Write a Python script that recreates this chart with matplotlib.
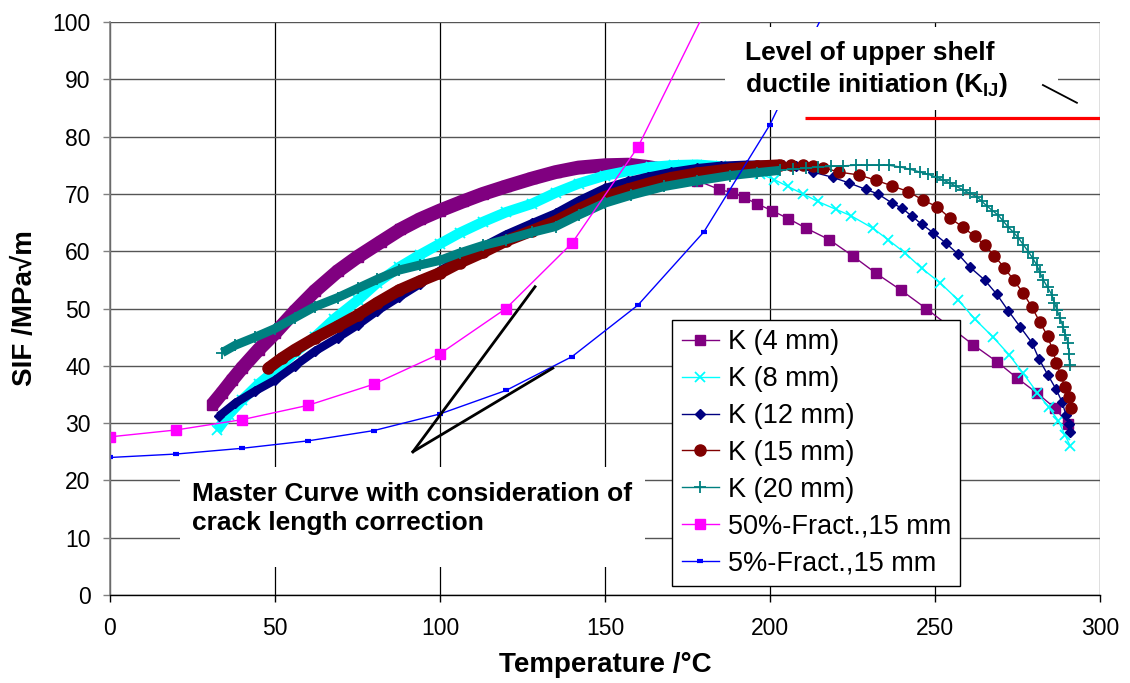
import matplotlib
matplotlib.use('Agg')
import matplotlib.pyplot as plt
from matplotlib.patches import Rectangle

plt.rcParams['font.family'] = ['Liberation Sans', 'DejaVu Sans']
plt.rcParams['mathtext.fontset'] = 'custom'
plt.rcParams['mathtext.rm'] = 'Liberation Sans'
plt.rcParams['mathtext.bf'] = 'Liberation Sans:bold'
plt.rcParams['mathtext.it'] = 'Liberation Sans:italic'

# ---------------- data ----------------
# Each K curve: densely sampled part (_d) and sparsely sampled part (_s)
# K (4 mm)
k4_t_d = [31, 34, 37, 40, 45, 50, 56, 62, 69, 75, 82, 88, 94, 100, 107, 113, 120, 128,
          135, 142, 150, 157, 163, 168, 173, 178]
k4_k_d = [33.2, 35.3, 37.5, 39.6, 42.8, 45.7, 49.5, 53.0, 56.5, 59.0, 61.6, 63.8, 65.6, 67.1,
          68.7, 70.0, 71.3, 72.7, 73.8, 74.6, 75.0, 75.1, 74.7, 74.2, 73.4, 72.3]
k4_t_s = [184.6, 188.6, 192, 196, 200.5, 205.5, 211, 218, 225, 232, 239.7, 247.3, 254.5,
          261.5, 268.8, 274.8, 281, 286.4, 290.3]
k4_k_s = [70.8, 70.2, 69.4, 68.3, 67.1, 65.7, 64.0, 62.0, 59.2, 56.2, 53.2, 50.0, 46.8,
          43.7, 40.7, 37.9, 35.2, 32.6, 29.8]

# K (8 mm)
k8_t_d = [32.5, 36, 40, 45, 50, 56, 62, 68, 75, 81, 87.6, 94, 100, 106, 113, 120, 128, 135,
          142, 150, 157, 164, 171, 178, 185]
k8_k_d = [28.8, 31.5, 34.0, 36.8, 39.2, 42.3, 45.0, 48.2, 51.4, 54.5, 57.2, 59.4, 61.3, 63.2,
          65.1, 66.8, 68.3, 70.2, 71.8, 73.2, 74.0, 74.7, 75.0, 75.1, 74.8]
k8_t_s = [192, 197, 201.3, 205.4, 210, 214.4, 220, 224.5, 231.2, 235.8, 240.9, 246, 251.5, 257,
          262, 267.6, 272.5, 276.7, 281, 284.4, 287.4, 289.4, 291]
k8_k_s = [74.0, 73.5, 72.5, 71.3, 70.0, 68.7, 67.3, 66.2, 64.0, 62.0, 59.7, 57.0, 54.5, 51.5,
          48.2, 45.0, 41.9, 38.7, 35.3, 32.8, 30.4, 27.9, 26.0]

# K (12 mm)
k12_t_d = [33, 38, 44, 50, 56, 62, 69, 75, 81, 87.6, 94, 100, 106, 113, 120, 128, 135, 142,
           150, 157, 163, 170, 178, 185, 193, 200]
k12_k_d = [31.2, 33.5, 35.6, 37.5, 40.0, 42.5, 44.9, 47.1, 49.6, 52.0, 54.3, 56.6, 58.7, 60.8,
           62.9, 64.9, 66.6, 68.8, 71.0, 72.2, 73.0, 73.8, 74.5, 74.9, 75.1, 75.1]
k12_t_s = [204, 208, 213, 219, 224, 229, 232.7, 237, 240, 243, 246, 249.5, 253.3, 257, 260.6,
           265, 268.7, 272.2, 275.8, 279.4, 281.5, 284.2, 286.7, 288.5, 289.7, 290.6, 291]
k12_k_s = [75.0, 74.8, 73.8, 72.9, 71.9, 70.8, 70.0, 68.4, 67.5, 66.1, 64.7, 63.2, 61.4, 59.5,
           57.2, 55.0, 52.5, 49.6, 46.8, 44.0, 41.2, 38.4, 35.9, 33.7, 31.4, 29.8, 28.5]

# K (15 mm)
k15_t_d = [48, 52, 56, 62, 69, 75, 81, 87.6, 94, 100, 106, 113, 120, 128, 135, 142, 150, 157,
           163, 170, 178, 188, 196, 203]
k15_k_d = [39.6, 41.3, 42.8, 44.8, 46.9, 48.8, 51.0, 53.2, 54.8, 56.2, 58.0, 59.8, 61.8, 63.6,
           65.2, 67.3, 69.5, 70.8, 71.8, 72.8, 73.6, 74.3, 74.8, 75.0]
k15_t_s = [206.5, 210, 213, 216, 221, 227, 232, 237, 241.9, 246.4, 250.5, 254.5, 258.5, 262, 265,
           268, 271, 273.8, 276.7, 279.3, 281.8, 284.1, 285.6, 286.8, 288.1, 289.4, 290.5, 291.2]
k15_k_s = [75.0, 75.0, 74.9, 74.6, 73.8, 73.3, 72.4, 71.4, 70.4, 68.9, 67.8, 65.8, 64.2, 62.6,
           61.1, 59.2, 57.1, 55.0, 52.7, 50.3, 47.6, 45.2, 42.8, 40.5, 38.4, 36.3, 34.6, 32.6]

# K (20 mm)
k20_t_d = [34, 38, 44, 50, 56, 62, 69, 75, 81, 87.6, 94, 100, 106, 113, 120, 128, 135, 142,
           150, 158, 168, 178, 188, 196, 203]
k20_k_d = [42.3, 43.6, 45.0, 46.5, 48.4, 50.3, 51.9, 53.5, 55.1, 56.7, 57.6, 58.4, 59.7, 61.0,
           62.0, 63.3, 64.3, 66.3, 68.4, 69.8, 71.3, 72.3, 73.2, 73.7, 74.1]
k20_t_s = [207, 211, 214.5, 218.5, 222, 226, 229.5, 233, 236, 239.4, 242.5, 245.5, 248, 250.6,
           252.5, 254.5, 256.5, 258.5, 260.6, 262.7, 264.2, 265.7, 267.4, 269.1, 270.6, 272.2,
           273.8, 275.3, 276.8, 278.3, 279.6, 280.8, 281.8, 282.8, 284.1, 285.4, 286.2, 287,
           287.9, 288.8, 289.5, 290.3, 290.6, 290.8]
k20_k_s = [74.3, 74.5, 74.7, 74.8, 74.9, 75.0, 75.0, 75.0, 75.0, 74.7, 74.3, 73.8, 73.4, 72.9,
           72.4, 71.9, 71.3, 70.7, 70.1, 69.5, 68.7, 67.9, 67.1, 66.3, 65.3, 64.2, 63.3, 62.3,
           61.1, 59.9, 58.8, 57.6, 56.3, 55.0, 53.7, 52.4, 51.0, 49.7, 48.3, 46.8, 45.4, 44.0,
           42.0, 40.1]

# Master curve fractiles (15 mm)
mc_t = [0, 20, 40, 60, 80, 100, 120, 140, 160, 180, 200, 220]
mc50_k = [27.6, 28.8, 30.6, 33.1, 36.8, 42.1, 50.0, 61.4, 78.2, 101.5, None, None]
mc05_k = [24.0, 24.6, 25.6, 26.9, 28.7, 31.6, 35.7, 41.6, 50.6, 63.4, 82.1, 106.0]

# Upper shelf level and annotation leader lines
kij_t = [210.6, 300]
kij_k = [83.3, 83.3]
lead1_t = [91.8, 128.8]
lead1_k = [25.0, 53.8]
lead2_t = [91.8, 134.2]
lead2_k = [25.0, 39.6]
lead3_t = [282.7, 293.0]
lead3_k = [89.0, 85.9]

labels = ['K (4 mm)', 'K (8 mm)', 'K (12 mm)', 'K (15 mm)', 'K (20 mm)',
          '50%-Fract.,15 mm', '5%-Fract.,15 mm']
x_ticks = [0, 50, 100, 150, 200, 250, 300]
y_ticks = [0, 10, 20, 30, 40, 50, 60, 70, 80, 90, 100]

# ---------------- figure ----------------
fig = plt.figure(figsize=(11.3, 6.83), dpi=100)
ax = fig.add_axes([110 / 1130, 1 - 595 / 683, 990 / 1130, 573 / 683])

k_series = [
    (k4_t_d, k4_k_d, k4_t_s, k4_k_s, '#800080', 's', 7.5, 1.0, 10),
    (k8_t_d, k8_k_d, k8_t_s, k8_k_s, '#00FFFF', 'x', 7.0, 1.3, 7.5),
    (k12_t_d, k12_k_d, k12_t_s, k12_k_s, '#000080', 'D', 5.5, 1.0, 6.0),
    (k15_t_d, k15_k_d, k15_t_s, k15_k_s, '#800000', 'o', 8.0, 1.0, 8.5),
    (k20_t_d, k20_k_d, k20_t_s, k20_k_s, '#008080', '+', 8.0, 1.3, 6.5),
]
for i, (td, kd, ts, ks, col, mk, ms, mew, blw) in enumerate(k_series):
    z = 2 + i * 0.01
    ax.plot(td, kd, color=col, lw=blw, solid_capstyle='butt', zorder=z)
    ax.plot(td + ts, kd + ks, color=col, lw=1.0, marker=mk, ms=ms, mew=mew,
            mec=col, mfc=col, label=labels[i], zorder=z)

mc50_t = [t for t, k in zip(mc_t, mc50_k) if k is not None]
mc50_v = [k for k in mc50_k if k is not None]
ax.plot(mc50_t, mc50_v, color='#FF00FF', lw=1.0, marker='s', ms=7, mfc='#FF00FF',
        mec='#FF00FF', label=labels[5], zorder=2.1)
ax.plot(mc_t, mc05_k, color='#0000FF', lw=1.0, marker='_', ms=5, mew=3,
        mec='#0000FF', label=labels[6], zorder=2.1)

ax.plot(kij_t, kij_k, color='#FF0000', lw=2.3, solid_capstyle='butt', zorder=2.2)

# white text boxes (cover gridlines / lines like the original text frames)
ax.add_patch(Rectangle((186.4, 84.6), 100.9, 14.5, fc='white', ec='none', zorder=3))
ax.add_patch(Rectangle((21.2, 4.9), 140.9, 17.4, fc='white', ec='none', zorder=3))

for lt, lk, lw in [(lead1_t, lead1_k, 2.0), (lead2_t, lead2_k, 2.0), (lead3_t, lead3_k, 1.3)]:
    ax.plot(lt, lk, color='black', lw=lw, zorder=4)

ax.text(192.4, 96.6, 'Level of upper shelf\nductile initiation (K$_{\\mathbf{IJ}}$)',
        fontsize=19, fontweight='bold', ha='left', va='top', linespacing=1.28, zorder=5)
ax.text(25.0, 19.8, 'Master Curve with consideration of\ncrack length correction',
        fontsize=19, fontweight='bold', ha='left', va='top', linespacing=1.28, zorder=5)

ax.set_xlim(0, 300)
ax.set_ylim(0, 100)
ax.set_xticks(x_ticks)
ax.set_yticks(y_ticks)
ax.set_axisbelow(True)
ax.grid(axis='x', color='black', lw=0.9)
ax.grid(axis='y', color='#555555', lw=1.0)
for s in ['top', 'right']:
    ax.spines[s].set_visible(False)
ax.spines['left'].set_color('#808080')
ax.spines['left'].set_linewidth(1.2)
ax.spines['bottom'].set_color('black')
ax.spines['bottom'].set_linewidth(1.0)
ax.tick_params(axis='both', direction='out', length=5, width=1, labelsize=16.5)
ax.tick_params(axis='x', pad=11)
ax.tick_params(axis='y', pad=9, color='#808080')

ax.set_xlabel('Temperature /°C', fontsize=20, fontweight='bold')
ax.set_ylabel('SIF /MPa√m', fontsize=20, fontweight='bold')
ax.xaxis.set_label_coords(0.5, -0.1)
ax.yaxis.set_label_coords(-0.073, 0.5)

leg = ax.legend(loc='upper left', bbox_to_anchor=(0.5677, 0.48), borderaxespad=0,
                fontsize=19.5, frameon=True, fancybox=False, edgecolor='black',
                framealpha=1, borderpad=0.35, labelspacing=0.4, handlelength=1.4,
                handletextpad=0.3, numpoints=1)
leg.get_frame().set_linewidth(1.0)
leg.set_zorder(10)

fig.savefig('out.png', dpi=100)
